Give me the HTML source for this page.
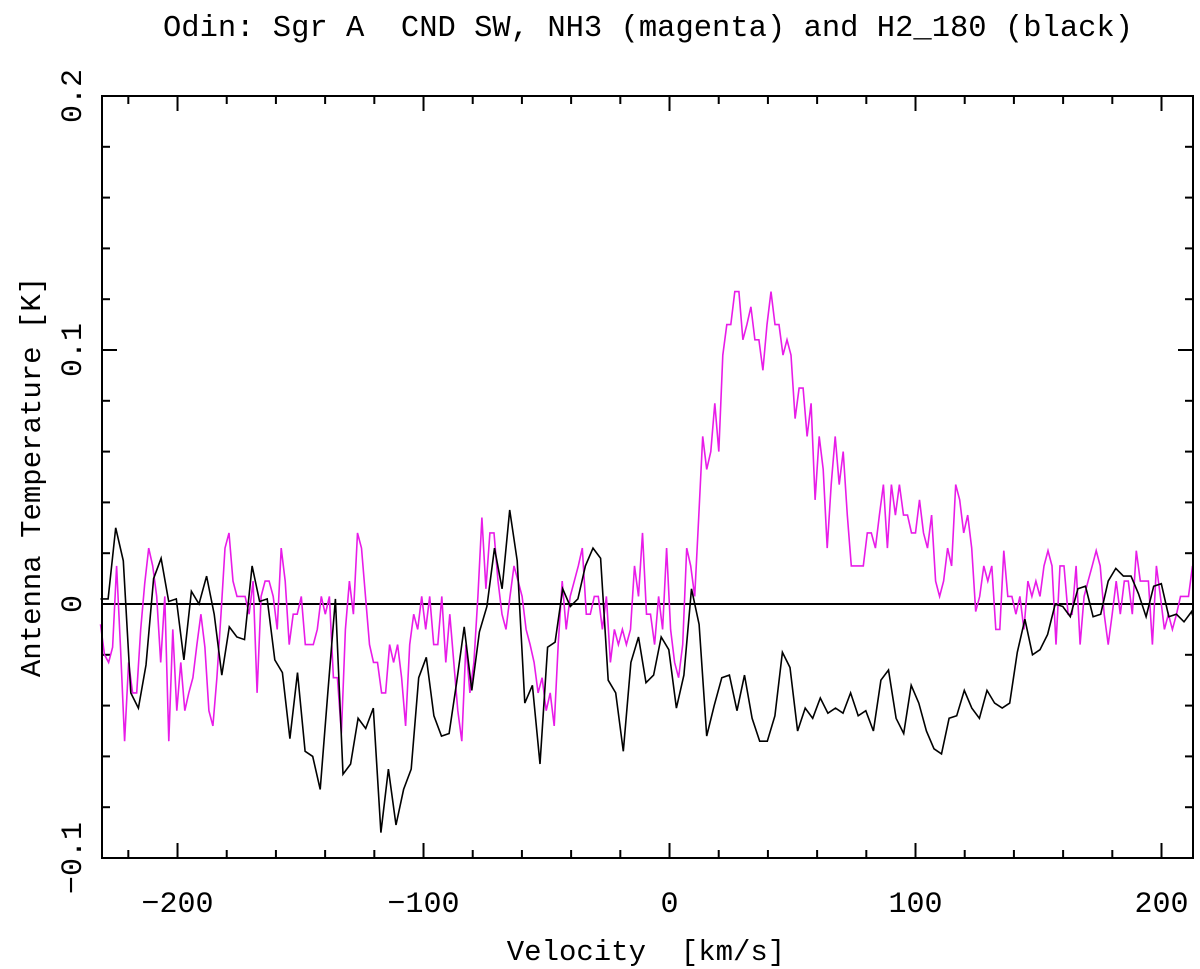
<!DOCTYPE html>
<html><head><meta charset="utf-8"><style>
html,body{margin:0;padding:0;background:#fff;}
svg{display:block;}
text{font-family:"Liberation Mono",monospace;fill:#000;}
</style></head><body>
<svg id="chart" width="1200" height="969" viewBox="0 0 1200 969" xmlns="http://www.w3.org/2000/svg">
<text x="648" y="36" font-size="30.5" text-anchor="middle" xml:space="preserve">Odin: Sgr A  CND SW, NH3 (magenta) and H2_180 (black)</text>
<text x="646" y="960" font-size="29" text-anchor="middle" xml:space="preserve">Velocity  [km/s]</text>
<text transform="translate(40,477) rotate(-90)" font-size="29" text-anchor="middle">Antenna Temperature [K]</text>
<g id="axes"></g>
<g id="series"></g>
<rect x="102" y="96" width="1091" height="762" fill="none" stroke="#000" stroke-width="2"/>
</svg>
<script>
const xTicks = [-200, -100, 0, 100, 200];
const xTickLabels = ["\u2212200", "\u2212100", "0", "100", "200"];
const yTicks = [-0.1, 0, 0.1, 0.2];
const yTickLabels = ["\u22120.1", "0", "0.1", "0.2"];
const blackStartVelocity = -231.3;
const blackChannelWidth = 3.08;
const blackTemps = [0.002,0.002,0.030,0.017,-0.035,-0.041,-0.024,0.010,0.018,0.001,
0.002,-0.022,0.005,0,0.011,-0.004,-0.028,-0.009,-0.013,-0.014,
0.015,0.001,0.002,-0.022,-0.027,-0.053,-0.027,-0.058,-0.060,-0.073,
-0.035,0.002,-0.067,-0.063,-0.045,-0.049,-0.041,-0.090,-0.065,-0.087,
-0.073,-0.065,-0.029,-0.021,-0.044,-0.052,-0.051,-0.031,-0.009,-0.034,
-0.011,-0.001,0.022,0.006,0.037,0.017,-0.039,-0.032,-0.063,-0.017,
-0.015,0.006,-0.001,0.002,0.015,0.022,0.018,-0.030,-0.035,-0.058,
-0.023,-0.013,-0.031,-0.028,-0.013,-0.018,-0.041,-0.028,0.006,-0.008,
-0.052,-0.040,-0.029,-0.028,-0.042,-0.028,-0.045,-0.054,-0.054,-0.044,
-0.019,-0.025,-0.050,-0.041,-0.045,-0.037,-0.043,-0.041,-0.043,-0.035,
-0.044,-0.042,-0.050,-0.030,-0.026,-0.045,-0.051,-0.032,-0.039,-0.050,
-0.057,-0.059,-0.045,-0.044,-0.034,-0.041,-0.045,-0.034,-0.039,-0.041,
-0.039,-0.019,-0.006,-0.020,-0.018,-0.012,0,-0.001,-0.005,0.006,
0.007,-0.005,-0.004,0.009,0.014,0.011,0.011,0.004,-0.005,0.007,
0.008,-0.005,-0.004,-0.007,-0.003,-0.005];
const magentaStartVelocity = -231.3;
const magentaChannelWidth = 1.632;
const magentaTemps = [-0.008,-0.020,-0.023,-0.017,0.015,-0.018,-0.054,-0.023,-0.035,-0.035,
-0.010,0.008,0.022,0.015,0.003,-0.023,0.003,-0.054,-0.010,-0.042,
-0.023,-0.042,-0.035,-0.029,-0.016,-0.004,-0.017,-0.042,-0.048,-0.029,
-0.004,0.022,0.028,0.009,0.003,0.003,0.003,-0.004,0.009,-0.035,
0.003,0.009,0.009,0.003,-0.010,0.022,0.009,-0.016,-0.004,-0.004,
0.003,-0.016,-0.016,-0.016,-0.010,0.003,-0.004,0.003,-0.029,-0.029,
-0.051,-0.010,0.009,-0.004,0.028,0.022,0.003,-0.016,-0.023,-0.023,
-0.035,-0.035,-0.016,-0.023,-0.016,
-0.029,-0.048,-0.016,-0.004,-0.010,0.003,-0.010,0.003,-0.016,-0.016,
0.003,-0.023,-0.004,-0.023,-0.042,-0.054,-0.016,-0.035,-0.023,0.003,
0.034,0.006,0.028,0.028,0.009,-0.004,-0.010,0.003,0.015,0.009,
0.003,-0.010,-0.016,-0.023,-0.035,-0.029,-0.042,-0.035,-0.048,-0.016,
0.009,-0.010,0.003,0.009,0.015,0.022,-0.004,-0.004,0.003,0.003,
-0.010,0.003,-0.023,-0.010,-0.016,-0.010,-0.016,-0.010,0.015,0.003,
0.028,-0.004,-0.004,-0.016,0.003,-0.010,0.022,-0.010,-0.023,-0.029,
-0.016,0.022,
0.015,0.003,0.034,0.066,0.053,0.060,0.079,0.060,0.098,0.110,
0.110,0.123,0.123,0.104,0.110,0.117,0.104,0.104,0.092,0.110,
0.123,0.110,0.110,0.098,0.104,0.098,0.073,0.085,0.085,0.066,
0.079,0.041,0.066,0.053,0.022,0.047,0.066,0.047,0.060,0.035,
0.015,0.015,0.015,0.015,0.028,0.028,0.022,0.035,0.047,0.022,
0.047,0.035,0.047,0.035,0.035,0.028,0.028,0.041,0.028,0.022,
0.035,0.009,0.003,0.009,0.022,0.015,0.047,0.041,0.028,0.035,
0.022,-0.003,
0.003,0.015,0.009,0.015,-0.010,-0.010,0.021,0.003,0.003,-0.004,
0.003,-0.010,0.009,0.003,0.009,0.003,0.015,0.021,0.015,-0.016,
0.015,0.015,-0.004,-0.004,0.015,-0.016,0.003,0.009,0.015,0.021,
0.015,-0.004,-0.016,-0.004,0.009,-0.004,0.009,0.009,-0.004,0.021,
0.009,0.009,0.009,-0.016,0.015,0.003,-0.010,-0.004,-0.010,-0.004,
0.003,0.003,0.003,0.015];

const X0=102, X1=1193, Y0=96, Y1=858;
const vMin=-230.7, vMax=212.8, tMin=-0.1, tMax=0.2;
function xScale(v){return X0+(v-vMin)/(vMax-vMin)*(X1-X0);}
function yScale(t){return Y1-(t-tMin)/(tMax-tMin)*(Y1-Y0);}
const NS="http://www.w3.org/2000/svg";
function mk(tag,attrs,parent){const e=document.createElementNS(NS,tag);for(const k in attrs)e.setAttribute(k,attrs[k]);parent.appendChild(e);return e;}
const axes=document.getElementById('axes');
const series=document.getElementById('series');

for(let v=-220; v<=200; v+=20){
  const major = (v%100===0);
  const len = major?15:8;
  const x=xScale(v);
  const t1=mk('line',{x1:x,y1:Y1,x2:x,y2:Y1-len,stroke:'#000','stroke-width':2},axes);
  
  
  const t2=mk('line',{x1:x,y1:Y0,x2:x,y2:Y0+len,stroke:'#000','stroke-width':2},axes);
  
  
}
xTicks.forEach((v,i)=>{
  const t=mk('text',{x:xScale(v),y:912,'font-size':30,'text-anchor':'middle'},axes);
  t.textContent=xTickLabels[i];
  
  
});
for(let k=-5;k<=10;k++){
  const tv=k*0.02;
  const major=(k%5===0);
  const len=major?15:8;
  const y=yScale(tv);
  const t1=mk('line',{x1:X0,y1:y,x2:X0+len,y2:y,stroke:'#000','stroke-width':2},axes);
  
  
  const t2=mk('line',{x1:X1,y1:y,x2:X1-len,y2:y,stroke:'#000','stroke-width':2},axes);
  
  
}
yTicks.forEach((tv,i)=>{
  const y=yScale(tv);
  const t=mk('text',{transform:`translate(81,${y}) rotate(-90)`,'font-size':30,'text-anchor':'middle'},axes);
  t.textContent=yTickLabels[i];
  
  
});
const zl=mk('line',{x1:X0,y1:yScale(0),x2:X1,y2:yScale(0),stroke:'#000','stroke-width':2},axes);



function poly(temps,v0,dv,color){
  const pts=temps.map((t,i)=>{const x=Math.min(X1,xScale(v0+i*dv));return x.toFixed(1)+','+yScale(t).toFixed(1);}).join(' ');
  return mk('polyline',{points:pts,fill:'none',stroke:color,'stroke-width':1.6,'stroke-linejoin':'miter'},series);
}
const mLine=poly(magentaTemps,magentaStartVelocity,magentaChannelWidth,'#e81ce8');


const bLine=poly(blackTemps,blackStartVelocity,blackChannelWidth,'#000');


</script>
</body></html>
